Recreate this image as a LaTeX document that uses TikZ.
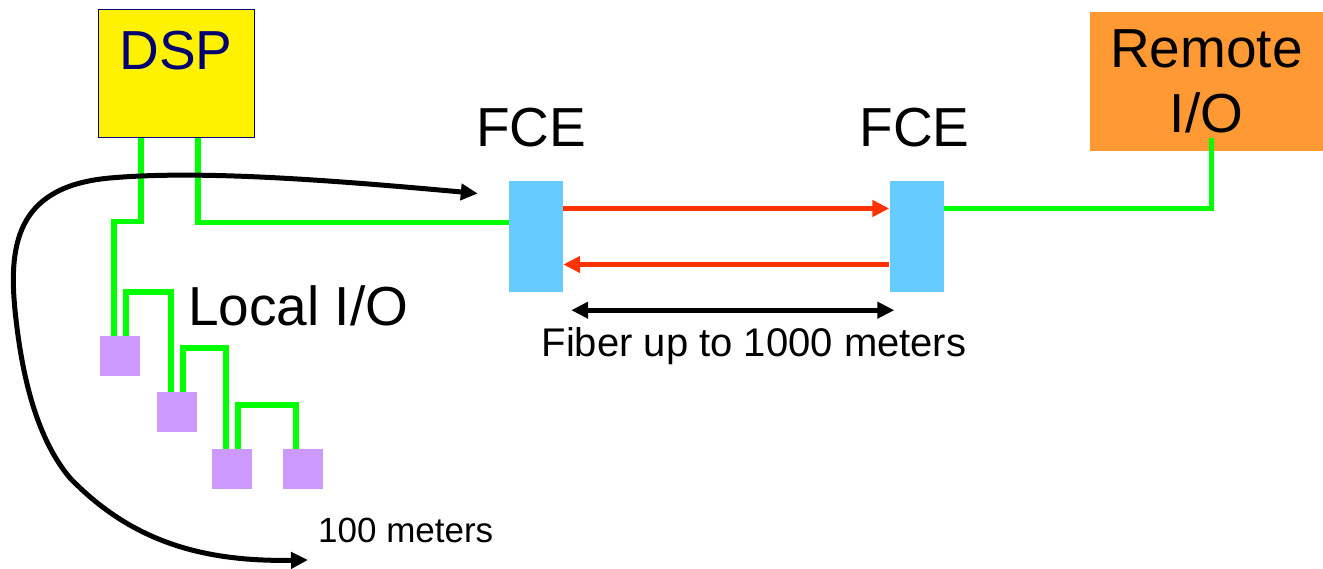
\documentclass[tikz,border=0pt]{standalone}
\usepackage{fontspec}
\setmainfont{Liberation Sans}
\usetikzlibrary{positioning,arrows.meta}
\definecolor{wiregreen}{HTML}{00FF00}
\definecolor{fcblue}{HTML}{66CCFF}
\definecolor{iopurple}{HTML}{CC99FF}
\definecolor{remoteorange}{HTML}{FF9933}
\definecolor{fiberred}{HTML}{FF3300}
\definecolor{dspnavy}{HTML}{000070}

\begin{document}
\begin{tikzpicture}[x=1pt,y=-1pt,>={Triangle[length=17pt,width=16pt]},
  big/.style={font=\fontsize{55}{65}\selectfont},
  wire/.style={wiregreen,line width=5.5pt},
  dspbox/.style={draw=dspnavy,line width=1pt,fill=yellow,minimum width=156pt,minimum height=128pt},
  remotebox/.style={big,fill=remoteorange,align=center,inner sep=0,minimum width=233pt,minimum height=139pt},
  fce/.style={fill=fcblue,inner sep=0,minimum width=54pt,minimum height=111pt},
  iobox/.style={fill=iopurple,inner sep=0,minimum size=40pt},
  fiberline/.style={->,fiberred,line width=5pt},
  spanarrow/.style={<->,line width=5pt}]
  \useasboundingbox (0,0) rectangle (1323,569);
  \node[dspbox] (dsp) at (176,74) {};
  \node[big,text=dspnavy,anchor=north,inner sep=0] (dsplabel) at ([yshift=-21pt]dsp.north) {DSP};
  \node[remotebox] (remote) at (1206.5,81.5) {Remote\\I/O};
  \node[fce] (fce1) at (536,236.5) {};
  \node[fce] (fce2) at (916.5,236.5) {};
  \node[big,anchor=base,inner sep=0] (fcelabel1) at ([xshift=-5pt,yshift=34pt]fce1.north) {FCE};
  \node[big,anchor=base,inner sep=0] (fcelabel2) at ([xshift=-2pt,yshift=34pt]fce2.north) {FCE};
  \node[iobox] (io1) at (120,356) {};
  \node[iobox] (io2) at (177,412) {};
  \node[iobox] (io3) at (232,469) {};
  \node[iobox] (io4) at (303,469) {};
  \node[big,anchor=base west,inner sep=0] (local) at (188,326) {Local I/O};
  \node[font=\fontsize{35}{40}\selectfont,anchor=base west,inner sep=0] (dist) at (318,542) {100 meters};
  \node[font=\fontsize{40}{46}\selectfont,anchor=base,inner sep=0] (fibertext) at (754,356) {Fiber up to 1000 meters};
  \draw[wire] ([xshift=22pt]dsp.south) |- ([yshift=14pt]fce1.west);
  \draw[wire] ([xshift=-35pt]dsp.south) -- ++(0,83) -| ([xshift=-6pt]io1.north);
  \draw[wire] ([xshift=6pt]io1.north) -- ++(0,-44) -| ([xshift=-6pt]io2.north);
  \draw[wire] ([xshift=6pt]io2.north) -- ++(0,-44) -| ([xshift=-6pt]io3.north);
  \draw[wire] ([xshift=6pt]io3.north) -- ++(0,-44) -| ([xshift=-7pt]io4.north);
  \draw[wire] ([xshift=5pt,yshift=13pt]remote.south) |- ([yshift=28pt]fce2.east);
  \draw[fiberline] ([yshift=28pt]fce1.east) -- ([yshift=28pt]fce2.west);
  \draw[fiberline] ([yshift=-28pt]fce2.west) -- ([yshift=-28pt]fce1.east);
  \draw[spanarrow] ([xshift=8pt,yshift=-18pt]fce1.south east) -- ([xshift=5pt,yshift=-18pt]fce2.south west);
  \coordinate (reach) at ([xshift=-31pt,yshift=43pt]fce1.west);
  \coordinate (reachend) at (308,560);
  \draw[<->,line width=5pt] (reach) .. controls (330,180) and (200,170) .. (110,178)
    .. controls (20,186) and (8,240) .. (15,310) .. controls (22,380) and (38,440) .. (70,478)
    .. controls (130,540) and (200,562) .. (reachend);
\end{tikzpicture}
\end{document}
